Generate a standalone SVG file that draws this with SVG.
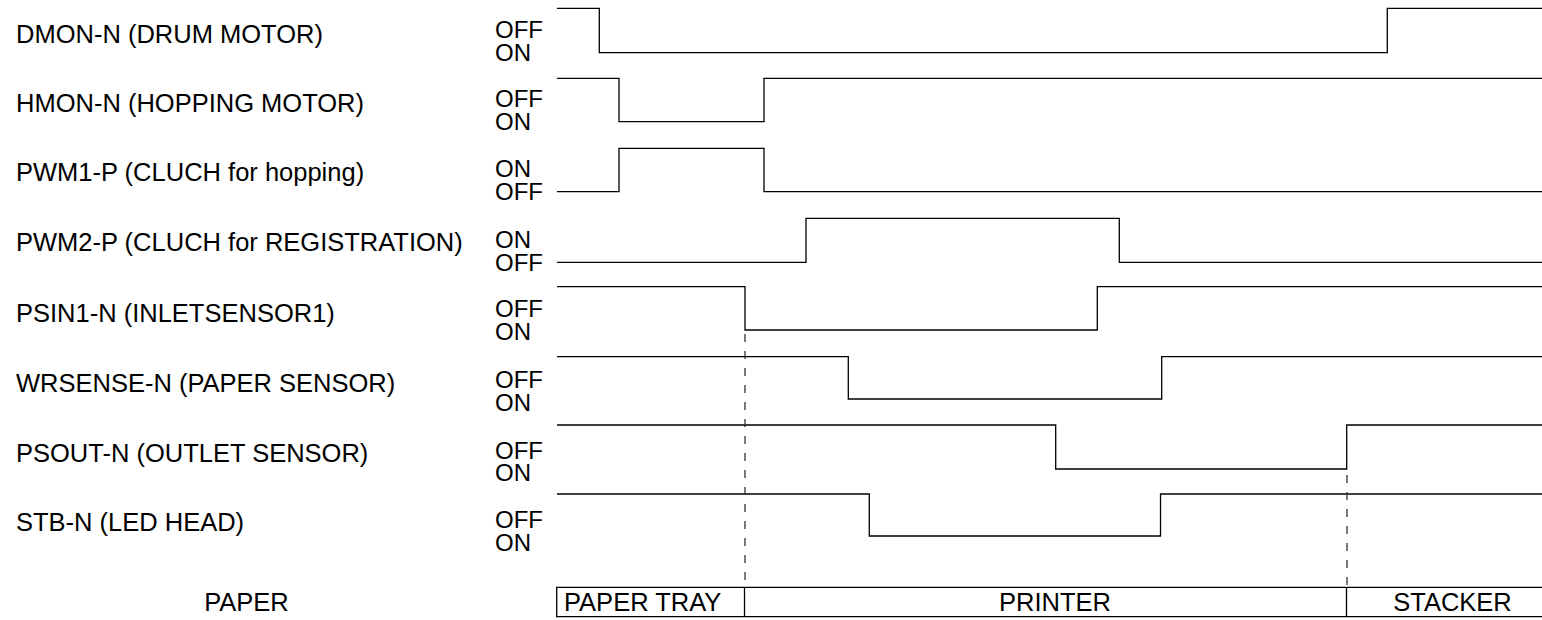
<svg xmlns="http://www.w3.org/2000/svg" width="1542" height="620" viewBox="0 0 1542 620">
<style>
text{font-family:"Liberation Sans",Arial,sans-serif;font-size:25.5px;fill:#000}
.st{font-size:24px}
.w{fill:none;stroke:#000;stroke-width:1.3}
.d{fill:none;stroke:#333;stroke-width:1.3;stroke-dasharray:8 9}
.mid{text-anchor:middle}
</style>
<rect width="1542" height="620" fill="#fff"/>
<g id="dmon">
<text x="16" y="42.7">DMON-N (DRUM MOTOR)</text>
<text class="st" x="495" y="37.7">OFF</text><text class="st" x="495" y="60.5">ON</text>
<polyline class="w" points="557,8.3 599.3,8.3 599.3,52.7 1387.3,52.7 1387.3,8.3 1542,8.3"/>
</g>
<g id="hmon">
<text x="16" y="111.8">HMON-N (HOPPING MOTOR)</text>
<text class="st" x="495" y="106.8">OFF</text><text class="st" x="495" y="129.6">ON</text>
<polyline class="w" points="557,78.3 619,78.3 619,121.7 764,121.7 764,78.3 1542,78.3"/>
</g>
<g id="pwm1">
<text x="16" y="181.4">PWM1-P (CLUCH for hopping)</text>
<text class="st" x="495" y="176.7">ON</text><text class="st" x="495" y="199.5">OFF</text>
<polyline class="w" points="557,191.7 619,191.7 619,148.3 764,148.3 764,191.7 1542,191.7"/>
</g>
<g id="pwm2">
<text x="16" y="251">PWM2-P (CLUCH for REGISTRATION)</text>
<text class="st" x="495" y="248.3">ON</text><text class="st" x="495" y="270.7">OFF</text>
<polyline class="w" points="557,262.3 806,262.3 806,218.3 1119.3,218.3 1119.3,262.3 1542,262.3"/>
</g>
<g id="psin1">
<text x="16" y="321.5">PSIN1-N (INLETSENSOR1)</text>
<text class="st" x="495" y="317.3">OFF</text><text class="st" x="495" y="340">ON</text>
<polyline class="w" points="557,286.7 745,286.7 745,330 1097.3,330 1097.3,286.7 1542,286.7"/>
</g>
<g id="wrsense">
<text x="16" y="391.5">WRSENSE-N (PAPER SENSOR)</text>
<text class="st" x="495" y="388">OFF</text><text class="st" x="495" y="410.5">ON</text>
<polyline class="w" points="557,356.7 848.3,356.7 848.3,399 1161.7,399 1161.7,356.7 1542,356.7"/>
</g>
<g id="psout">
<text x="16" y="462.3">PSOUT-N (OUTLET SENSOR)</text>
<text class="st" x="495" y="459">OFF</text><text class="st" x="495" y="481.3">ON</text>
<polyline class="w" points="557,425 1055.7,425 1055.7,469 1346.7,469 1346.7,425 1542,425"/>
</g>
<g id="stb">
<text x="16" y="531">STB-N (LED HEAD)</text>
<text class="st" x="495" y="528.3">OFF</text><text class="st" x="495" y="550.5">ON</text>
<polyline class="w" points="557,494 869.3,494 869.3,536 1160.5,536 1160.5,494 1542,494"/>
</g>
<g id="paper">
<text class="mid" x="246.5" y="610.7">PAPER</text>
<polyline class="w" points="1545,587.3 556.7,587.3 556.7,616.7 1545,616.7"/>
<line class="w" x1="744.5" y1="587.3" x2="744.5" y2="616.7"/>
<line class="w" x1="1346.5" y1="587.3" x2="1346.5" y2="616.7"/>
<text x="564" y="610.5">PAPER TRAY</text>
<text class="mid" x="1055" y="610.5">PRINTER</text>
<text class="mid" x="1452.5" y="610.5">STACKER</text>
</g>
<g id="connectors">
<line class="d" x1="745" y1="334" x2="745" y2="587"/>
<line class="d" x1="1347" y1="475" x2="1347" y2="587"/>
</g>
</svg>
